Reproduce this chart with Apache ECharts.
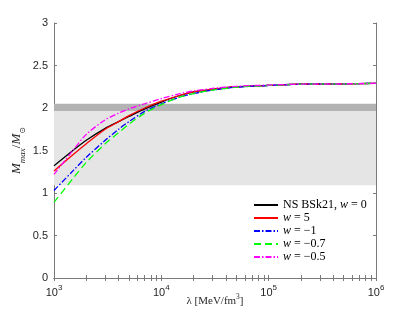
<!DOCTYPE html>
<html><head><meta charset="utf-8">
<script src="https://cdn.jsdelivr.net/npm/echarts@6/dist/echarts.min.js"></script>
<style>html,body{margin:0;padding:0;background:#fff}#c{width:415px;height:312px}</style>
</head><body><div id="c"></div>
<script>
const lambda = [1000,1500,2000,3000,4000,5000,7000,10000,15000,20000,30000,50000,100000,200000,500000,1000000];
const bsk21 = [1.32,1.50,1.62,1.76,1.84,1.90,1.99,2.07,2.15,2.19,2.22,2.25,2.265,2.28,2.285,2.29];
const wPos5 = [1.26,1.45,1.58,1.75,1.84,1.91,2.00,2.08,2.15,2.19,2.22,2.25,2.265,2.28,2.285,2.29];
const wNeg1 = [1.03,1.26,1.42,1.62,1.75,1.84,1.96,2.05,2.13,2.17,2.21,2.245,2.265,2.28,2.285,2.29];
const wNeg07 = [0.89,1.17,1.36,1.58,1.71,1.81,1.94,2.04,2.13,2.17,2.21,2.245,2.265,2.28,2.285,2.29];
const wNeg05 = [1.22,1.50,1.69,1.86,1.94,1.99,2.05,2.11,2.17,2.20,2.23,2.255,2.27,2.28,2.285,2.29];
const yTicks = [0,0.5,1,1.5,2,2.5,3];
const xLabelTicks = [1e3, 1e4, 1e5, 1e6];
const lightBand = [1.09, 1.965];
const darkBand = [1.965, 2.05];
const xMinor = [];
for (let e = 3; e < 6; e++) for (let k = 1; k < 10; k++) xMinor.push(k * Math.pow(10, e));
xMinor.push(1e6);

const names = ['bsk','w5','wm1','wm07','wm05'];
const legendText = {
  bsk: '{n|NS BSk21, }{i|w}{n| = 0}',
  w5: '{i|w}{n| = 5}',
  wm1: '{i|w}{n| = −1}',
  wm07: '{i|w}{n| = −0.7}',
  wm05: '{i|w}{n| = −0.5}'
};
const serif = 'Liberation Serif';
function mk(name, data, color, type) {
  return {
    name, type: 'line', symbol: 'none', smooth: 0.3, z: 3,
    data: lambda.map((x, i) => [x, data[i]]),
    lineStyle: { color, width: 1.3, type },
    itemStyle: { color }
  };
}
const series = [
  mk('bsk', bsk21, '#000000', 'solid'),
  mk('w5', wPos5, '#ff0000', 'solid'),
  mk('wm1', wNeg1, '#0000ff', [6,2,1.5,2]),
  mk('wm07', wNeg07, '#00ff00', [7,4]),
  mk('wm05', wNeg05, '#ff00ff', [6,2,1.5,2])
];
series[0].markArea = {
  silent: true,
  data: [
    [{ yAxis: lightBand[0], itemStyle: { color: '#e5e5e5' } }, { yAxis: lightBand[1] }],
    [{ yAxis: darkBand[0], itemStyle: { color: '#b3b3b3' } }, { yAxis: darkBand[1] }]
  ]
};
const axisCol = '#7a7a7a';
const labCol = '#262626';
const chart = echarts.init(document.getElementById('c'), null, { renderer: 'canvas' });
chart.setOption({
  animation: false,
  grid: { left: 54, right: 39, top: 23, bottom: 34, containLabel: false, outerBoundsMode: 'none' },
  legend: {
    orient: 'vertical', left: 251, top: 199,
    itemWidth: 24, itemHeight: 8, itemGap: 1,
    backgroundColor: '#fff', padding: [0, 2, 0, 2],
    data: names,
    itemStyle: { opacity: 0 },
    formatter: n => legendText[n],
    textStyle: {
      color: '#000', fontSize: 12, fontFamily: serif,
      rich: {
        n: { fontFamily: serif, fontSize: 12, color: '#000', lineHeight: 13 },
        i: { fontFamily: serif, fontStyle: 'italic', fontSize: 12, color: '#000', lineHeight: 13 }
      }
    }
  },
  xAxis: [{
    type: 'log', logBase: 10, min: 1000, max: 1e6, position: 'bottom',
    name: '{n|λ [MeV/fm}{s|3}{n|]}', nameLocation: 'middle', nameGap: 15, nameMoveOverlap: false,
    nameTextStyle: { rich: {
      n: { fontFamily: serif, fontSize: 11, color: labCol, lineHeight: 14, verticalAlign: 'bottom' },
      s: { fontFamily: serif, fontSize: 7.5, color: labCol, lineHeight: 14, verticalAlign: 'top' }
    } },
    axisLine: { show: true, lineStyle: { color: axisCol } },
    axisTick: { show: true, inside: true, length: 3, customValues: xMinor, lineStyle: { color: axisCol } },
    axisLabel: {
      margin: 6, customValues: xLabelTicks, hideOverlap: false, showMinLabel: true, showMaxLabel: true,
      formatter: v => '{b|10}{s|' + Math.round(Math.log10(v)) + '}',
      rich: {
        b: { fontFamily: 'Liberation Sans', fontSize: 11, color: labCol, lineHeight: 14, verticalAlign: 'bottom' },
        s: { fontFamily: 'Liberation Sans', fontSize: 8, color: labCol, lineHeight: 14, verticalAlign: 'top' }
      }
    },
    splitLine: { show: false }
  }, {
    type: 'log', logBase: 10, min: 1000, max: 1e6, position: 'top',
    axisLine: { show: true, lineStyle: { color: axisCol } },
    axisTick: { show: true, inside: true, length: 3, customValues: xMinor, lineStyle: { color: axisCol } },
    axisLabel: { show: false },
    splitLine: { show: false }
  }],
  yAxis: [{
    type: 'value', min: 0, max: 3, interval: 0.5, position: 'left',
    name: '{i|M}{si|max}{n|/}{i|M}{sn|⊙}', nameLocation: 'middle', nameGap: 27, nameRotate: 90, nameMoveOverlap: false,
    nameTextStyle: { rich: {
      i: { fontFamily: serif, fontStyle: 'italic', fontSize: 13, color: labCol, lineHeight: 17, verticalAlign: 'top' },
      n: { fontFamily: serif, fontSize: 13, color: labCol, lineHeight: 17, verticalAlign: 'top' },
      si: { fontFamily: serif, fontStyle: 'italic', fontSize: 9, color: labCol, lineHeight: 17, verticalAlign: 'bottom' },
      sn: { fontFamily: 'DejaVu Sans', fontSize: 8, color: labCol, lineHeight: 17, verticalAlign: 'bottom' }
    } },
    axisLine: { show: true, lineStyle: { color: axisCol } },
    axisTick: { show: true, inside: true, length: 3, lineStyle: { color: axisCol } },
    axisLabel: { margin: 6, fontFamily: 'Liberation Sans', fontSize: 11, color: labCol,
      formatter: v => String(v) },
    splitLine: { show: false }
  }, {
    type: 'value', min: 0, max: 3, interval: 0.5, position: 'right',
    axisLine: { show: true, lineStyle: { color: axisCol } },
    axisTick: { show: true, inside: true, length: 3, lineStyle: { color: axisCol } },
    axisLabel: { show: false },
    splitLine: { show: false }
  }],
  series
});
</script></body></html>
